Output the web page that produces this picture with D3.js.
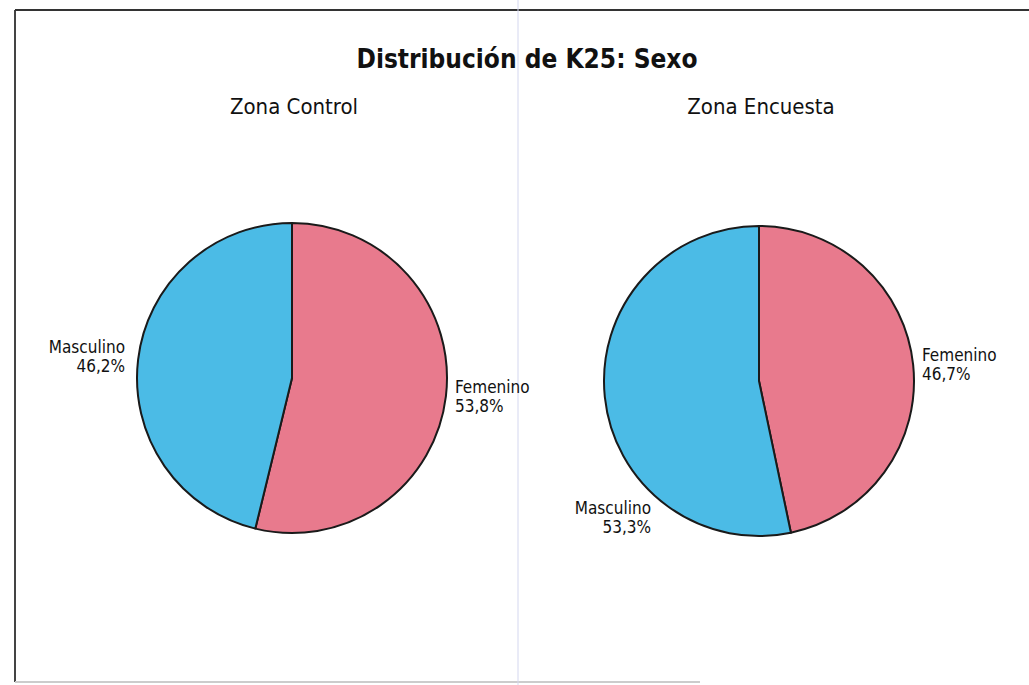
<!DOCTYPE html>
<html>
<head>
<meta charset="utf-8">
<script src="https://cdn.jsdelivr.net/npm/d3@7"></script>
<style>
  body { margin: 0; background: #fff; }
  svg text { font-family: Tahoma, "DejaVu Sans Condensed", "DejaVu Sans", sans-serif; fill: #111; }
</style>
</head>
<body>
<svg id="chart"></svg>
<script>
const W = 1029, H = 685;

// data
const categories = ["Femenino", "Masculino"];
const zonas = ["Zona Control", "Zona Encuesta"];
const pctControl = [53.8, 46.2];
const pctEncuesta = [46.7, 53.3];
const colors = ["#e87a8d", "#4bbbe6"];

const SVG = d3.select("#chart").attr("width", W).attr("height", H);

// frame of the scanned figure
SVG.append("line").attr("x1", 15).attr("x2", 15).attr("y1", 10).attr("y2", 682)
    .attr("stroke", "#444").attr("stroke-width", 2);
SVG.append("line").attr("x1", 15).attr("x2", W).attr("y1", 10).attr("y2", 10)
    .attr("stroke", "#333").attr("stroke-width", 2);
SVG.append("line").attr("x1", 15).attr("x2", 700).attr("y1", 682).attr("y2", 682)
    .attr("stroke", "#ccc").attr("stroke-width", 2);
// fold line of the page
SVG.append("line").attr("x1", 518).attr("x2", 518).attr("y1", 0).attr("y2", H)
    .attr("stroke", "#d4d7ef").attr("stroke-width", 1);

SVG.append("text")
    .attr("x", 527).attr("y", 68)
    .attr("text-anchor", "middle")
    .attr("font-size", 26).attr("font-weight", "bold")
    .text("Distribución de K25: Sexo");

const pie = d3.pie().sort(null).value(d => d);
const arc = d3.arc().innerRadius(0).outerRadius(155);

const panels = [
    { title: zonas[0], cx: 292, cy: 378, values: pctControl,
      labels: [ { x: 455, y: 393, anchor: "start" }, { x: 125, y: 353, anchor: "end" } ] },
    { title: zonas[1], cx: 759, cy: 381, values: pctEncuesta,
      labels: [ { x: 922, y: 361, anchor: "start" }, { x: 651, y: 514, anchor: "end" } ] }
];

panels.forEach(p => {
    SVG.append("text")
        .attr("x", p.cx + 2).attr("y", 114)
        .attr("text-anchor", "middle")
        .attr("font-size", 22)
        .text(p.title);

    const g = SVG.append("g").attr("transform", `translate(${p.cx},${p.cy})`);
    g.selectAll("path")
        .data(pie(p.values))
        .enter()
        .append("path")
        .attr("d", arc)
        .attr("fill", (d, i) => colors[i])
        .attr("stroke", "#1a1a1a")
        .attr("stroke-width", 2)
        .attr("stroke-linejoin", "round");

    p.values.forEach((v, i) => {
        const l = p.labels[i];
        const t = SVG.append("text")
            .attr("x", l.x).attr("y", l.y)
            .attr("text-anchor", l.anchor)
            .attr("font-size", 17);
        t.append("tspan").attr("x", l.x).text(categories[i]);
        t.append("tspan").attr("x", l.x).attr("dy", 19)
            .text(v.toFixed(1).replace(".", ",") + "%");
    });
});
</script>
</body>
</html>
